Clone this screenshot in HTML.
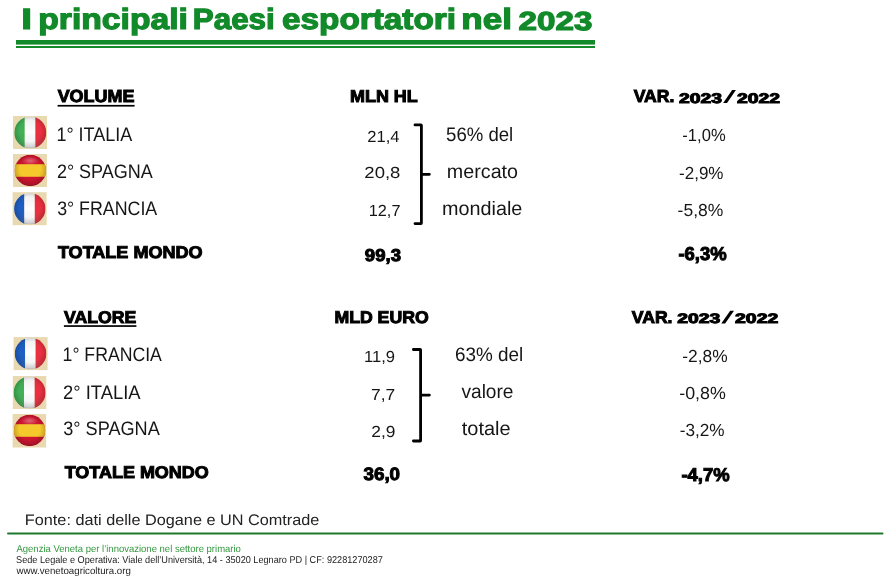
<!DOCTYPE html>
<html><head><meta charset="utf-8"><style>
html,body{margin:0;padding:0;background:#fff;}
body{width:888px;height:587px;overflow:hidden;}
svg{display:block;will-change:transform;}
text{font-family:"Liberation Sans",sans-serif;text-rendering:geometricPrecision;}
</style></head><body>
<svg width="888" height="587" viewBox="0 0 888 587">
<defs>
<radialGradient id="shade" cx="50%" cy="45%" r="55%">
<stop offset="0.6" stop-color="#000" stop-opacity="0"/>
<stop offset="0.93" stop-color="#000" stop-opacity="0.18"/>
<stop offset="1" stop-color="#000" stop-opacity="0.35"/>
</radialGradient>
<linearGradient id="vg" x1="0" y1="0" x2="0" y2="1">
<stop offset="0" stop-color="#000" stop-opacity="0.06"/>
<stop offset="0.5" stop-color="#000" stop-opacity="0"/>
<stop offset="1" stop-color="#fff" stop-opacity="0.12"/>
</linearGradient>
<radialGradient id="hl" cx="50%" cy="50%" r="50%">
<stop offset="0" stop-color="#fff" stop-opacity="0.35"/>
<stop offset="1" stop-color="#fff" stop-opacity="0"/>
</radialGradient>
</defs>
<rect width="888" height="587" fill="#fff"/>
<rect x="16" y="40" width="579" height="4.6" fill="#128a2a"/>
<rect x="16" y="46" width="579" height="2" fill="#128a2a"/>
<rect x="57.6" y="104.9" width="77" height="1.7" fill="#000"/>
<rect x="63.9" y="325.2" width="72.5" height="1.7" fill="#000"/>
<polygon points="723.2,102.9 727.0,102.9 735.9,90.1 732.1,90.1" fill="#000"/>
<polygon points="721.3,323.6 725.1,323.6 734.0,310.8 730.2,310.8" fill="#000"/>
<rect x="7" y="532.4" width="876.5" height="2.0" rx="1" fill="#20782f"/>
<rect x="13" y="116" width="34" height="33" fill="#e9d9b1"/>
<clipPath id="c1"><circle cx="30.3" cy="132.5" r="16"/></clipPath><g clip-path="url(#c1)"><rect x="14.3" y="116.5" width="10.60" height="32" fill="#42b157"/><rect x="24.70" y="116.5" width="10.88" height="32" fill="#fefefe"/><rect x="35.38" y="116.5" width="10.92" height="32" fill="#eb3040"/><circle cx="30.3" cy="132.5" r="16" fill="url(#vg)"/><circle cx="30.3" cy="132.5" r="16" fill="url(#shade)"/></g>
<rect x="13" y="154" width="34" height="33" fill="#e9d9b1"/>
<clipPath id="c2"><circle cx="30.3" cy="170.5" r="15.7"/></clipPath><g clip-path="url(#c2)"><rect x="14.600000000000001" y="154.8" width="31.4" height="31.4" fill="#cc1530"/><rect x="14.600000000000001" y="164.22" width="31.4" height="12.56" fill="#f5c82c"/><ellipse cx="30.3" cy="160.77" rx="8.63" ry="4.40" fill="url(#hl)"/><circle cx="30.3" cy="170.5" r="15.7" fill="url(#shade)"/></g>
<rect x="12.6" y="192.2" width="34" height="33" fill="#e9d9b1"/>
<clipPath id="c3"><circle cx="29.8" cy="208.8" r="15.7"/></clipPath><g clip-path="url(#c3)"><rect x="14.100000000000001" y="193.10000000000002" width="10.40" height="31.4" fill="#1f5fc4"/><rect x="24.30" y="193.10000000000002" width="10.68" height="31.4" fill="#fefefe"/><rect x="34.78" y="193.10000000000002" width="10.72" height="31.4" fill="#eb3040"/><circle cx="29.8" cy="208.8" r="15.7" fill="url(#vg)"/><circle cx="29.8" cy="208.8" r="15.7" fill="url(#shade)"/></g>
<rect x="13.6" y="337.1" width="34" height="33" fill="#e9d9b1"/>
<clipPath id="c4"><circle cx="30.6" cy="353.6" r="15.8"/></clipPath><g clip-path="url(#c4)"><rect x="14.8" y="337.8" width="10.47" height="31.6" fill="#1f5fc4"/><rect x="25.07" y="337.8" width="10.74" height="31.6" fill="#fefefe"/><rect x="35.61" y="337.8" width="10.79" height="31.6" fill="#eb3040"/><circle cx="30.6" cy="353.6" r="15.8" fill="url(#vg)"/><circle cx="30.6" cy="353.6" r="15.8" fill="url(#shade)"/></g>
<rect x="12.8" y="376" width="33.5" height="33" fill="#e9d9b1"/>
<clipPath id="c5"><circle cx="29.6" cy="392.6" r="16"/></clipPath><g clip-path="url(#c5)"><rect x="13.600000000000001" y="376.6" width="10.60" height="32" fill="#42b157"/><rect x="24.00" y="376.6" width="10.88" height="32" fill="#fefefe"/><rect x="34.68" y="376.6" width="10.92" height="32" fill="#eb3040"/><circle cx="29.6" cy="392.6" r="16" fill="url(#vg)"/><circle cx="29.6" cy="392.6" r="16" fill="url(#shade)"/></g>
<rect x="12.6" y="414" width="33.5" height="33.5" fill="#e9d9b1"/>
<clipPath id="c6"><circle cx="29.6" cy="430.5" r="15.7"/></clipPath><g clip-path="url(#c6)"><rect x="13.900000000000002" y="414.8" width="31.4" height="31.4" fill="#cc1530"/><rect x="13.900000000000002" y="424.22" width="31.4" height="12.56" fill="#f5c82c"/><ellipse cx="29.6" cy="420.77" rx="8.63" ry="4.40" fill="url(#hl)"/><circle cx="29.6" cy="430.5" r="15.7" fill="url(#shade)"/></g>

<path d="M415 124.9 H421.0 Q421.4 124.9 421.4 125.5 V223.0 Q421.4 223.6 421.0 223.6 H415 M421.4 174.3 H429.4" fill="none" stroke="#000" stroke-width="2.8" stroke-linecap="round" stroke-linejoin="round"/>
<path d="M413.4 349.5 H420.20000000000005 Q420.6 349.5 420.6 350.1 V440.4 Q420.6 441.0 420.20000000000005 441.0 H413.4 M420.6 395.1 H429.4" fill="none" stroke="#000" stroke-width="2.8" stroke-linecap="round" stroke-linejoin="round"/>
<text x="21.39" y="29.00" font-size="29.2" font-weight="bold" fill="#128a2a" stroke="#128a2a" stroke-width="1.2" textLength="10.72" lengthAdjust="spacingAndGlyphs">I</text>
<text x="38.21" y="29.00" font-size="29.2" font-weight="bold" fill="#128a2a" stroke="#128a2a" stroke-width="1.2" textLength="149.77" lengthAdjust="spacingAndGlyphs">principali</text>
<text x="192.78" y="29.00" font-size="29.2" font-weight="bold" fill="#128a2a" stroke="#128a2a" stroke-width="1.2" textLength="82.04" lengthAdjust="spacingAndGlyphs">Paesi</text>
<text x="281.97" y="29.00" font-size="29.2" font-weight="bold" fill="#128a2a" stroke="#128a2a" stroke-width="1.2" textLength="174.09" lengthAdjust="spacingAndGlyphs">esportatori</text>
<text x="461.32" y="29.00" font-size="29.2" font-weight="bold" fill="#128a2a" stroke="#128a2a" stroke-width="1.2" textLength="50.63" lengthAdjust="spacingAndGlyphs">nel</text>
<text x="518.64" y="30.00" font-size="26.07449856733525" font-weight="bold" fill="#128a2a" stroke="#128a2a" stroke-width="1.2" textLength="73.79" lengthAdjust="spacingAndGlyphs">2023</text>
<text x="57.67" y="102.40" font-size="17.44186046511628" font-weight="bold" fill="#000" stroke="#000" stroke-width="1.0" textLength="76.76" lengthAdjust="spacingAndGlyphs">VOLUME</text>
<text x="349.99" y="102.30" font-size="17.151162790697672" font-weight="bold" fill="#000" stroke="#000" stroke-width="1.0" textLength="67.78" lengthAdjust="spacingAndGlyphs">MLN HL</text>
<text x="633.67" y="102.40" font-size="17.44186046511628" font-weight="bold" fill="#000" stroke="#000" stroke-width="1.0" textLength="40.72" lengthAdjust="spacingAndGlyphs">VAR.</text>
<text x="679.12" y="102.70" font-size="13.896848137535821" font-weight="bold" fill="#000" stroke="#000" stroke-width="1.0" textLength="43.00" lengthAdjust="spacingAndGlyphs">2023</text>
<text x="737.02" y="102.70" font-size="13.896848137535821" font-weight="bold" fill="#000" stroke="#000" stroke-width="1.0" textLength="43.05" lengthAdjust="spacingAndGlyphs">2022</text>
<text x="56.45" y="140.90" font-size="19.5" fill="#161616" textLength="75.77" lengthAdjust="spacingAndGlyphs">1° ITALIA</text>
<text x="56.90" y="178.00" font-size="19.5" fill="#161616" textLength="95.85" lengthAdjust="spacingAndGlyphs">2° SPAGNA</text>
<text x="57.13" y="215.30" font-size="19.5" fill="#161616" textLength="100.12" lengthAdjust="spacingAndGlyphs">3° FRANCIA</text>
<text x="367.27" y="142.00" font-size="16.0" fill="#161616" textLength="32.20" lengthAdjust="spacingAndGlyphs">21,4</text>
<text x="364.37" y="178.30" font-size="16.0" fill="#161616" textLength="36.04" lengthAdjust="spacingAndGlyphs">20,8</text>
<text x="368.78" y="216.00" font-size="16.0" fill="#161616" textLength="31.66" lengthAdjust="spacingAndGlyphs">12,7</text>
<text x="446.06" y="140.50" font-size="19.5" fill="#161616" textLength="67.18" lengthAdjust="spacingAndGlyphs">56% del</text>
<text x="446.87" y="177.90" font-size="19.5" fill="#161616" textLength="71.16" lengthAdjust="spacingAndGlyphs">mercato</text>
<text x="442.06" y="215.40" font-size="19.5" fill="#161616" textLength="80.29" lengthAdjust="spacingAndGlyphs">mondiale</text>
<text x="682.35" y="141.00" font-size="17.5" fill="#161616" textLength="43.32" lengthAdjust="spacingAndGlyphs">-1,0%</text>
<text x="679.03" y="178.60" font-size="17.5" fill="#161616" textLength="44.46" lengthAdjust="spacingAndGlyphs">-2,9%</text>
<text x="677.61" y="215.80" font-size="17.5" fill="#161616" textLength="45.70" lengthAdjust="spacingAndGlyphs">-5,8%</text>
<text x="57.92" y="258.40" font-size="17.005813953488357" font-weight="bold" fill="#000" stroke="#000" stroke-width="1.0" textLength="144.66" lengthAdjust="spacingAndGlyphs">TOTALE MONDO</text>
<text x="364.85" y="260.90" font-size="17.19197707736386" font-weight="bold" fill="#000" stroke="#000" stroke-width="1.0" textLength="36.12" lengthAdjust="spacingAndGlyphs">99,3</text>
<text x="678.46" y="259.80" font-size="18.62464183381089" font-weight="bold" fill="#000" stroke="#000" stroke-width="1.0" textLength="48.24" lengthAdjust="spacingAndGlyphs">-6,3%</text>
<text x="64.07" y="322.80" font-size="17.005813953488357" font-weight="bold" fill="#000" stroke="#000" stroke-width="1.0" textLength="72.24" lengthAdjust="spacingAndGlyphs">VALORE</text>
<text x="334.41" y="322.90" font-size="17.005813953488357" font-weight="bold" fill="#000" stroke="#000" stroke-width="1.0" textLength="94.26" lengthAdjust="spacingAndGlyphs">MLD EURO</text>
<text x="631.77" y="323.10" font-size="17.151162790697693" font-weight="bold" fill="#000" stroke="#000" stroke-width="1.0" textLength="40.72" lengthAdjust="spacingAndGlyphs">VAR.</text>
<text x="677.22" y="323.40" font-size="13.753581661891069" font-weight="bold" fill="#000" stroke="#000" stroke-width="1.0" textLength="43.00" lengthAdjust="spacingAndGlyphs">2023</text>
<text x="735.12" y="323.40" font-size="13.753581661891069" font-weight="bold" fill="#000" stroke="#000" stroke-width="1.0" textLength="43.05" lengthAdjust="spacingAndGlyphs">2022</text>
<text x="62.58" y="361.10" font-size="19.5" fill="#161616" textLength="99.28" lengthAdjust="spacingAndGlyphs">1° FRANCIA</text>
<text x="62.98" y="398.70" font-size="19.5" fill="#161616" textLength="77.55" lengthAdjust="spacingAndGlyphs">2° ITALIA</text>
<text x="63.22" y="435.30" font-size="19.5" fill="#161616" textLength="96.53" lengthAdjust="spacingAndGlyphs">3° SPAGNA</text>
<text x="364.06" y="361.50" font-size="16.0" fill="#161616" textLength="31.02" lengthAdjust="spacingAndGlyphs">11,9</text>
<text x="371.03" y="399.50" font-size="16.0" fill="#161616" textLength="24.14" lengthAdjust="spacingAndGlyphs">7,7</text>
<text x="371.33" y="436.50" font-size="16.0" fill="#161616" textLength="24.15" lengthAdjust="spacingAndGlyphs">2,9</text>
<text x="454.96" y="361.00" font-size="19.5" fill="#161616" textLength="68.30" lengthAdjust="spacingAndGlyphs">63% del</text>
<text x="461.45" y="398.00" font-size="19.5" fill="#161616" textLength="52.08" lengthAdjust="spacingAndGlyphs">valore</text>
<text x="461.80" y="435.10" font-size="19.5" fill="#161616" textLength="48.77" lengthAdjust="spacingAndGlyphs">totale</text>
<text x="682.22" y="361.70" font-size="17.5" fill="#161616" textLength="45.39" lengthAdjust="spacingAndGlyphs">-2,8%</text>
<text x="679.20" y="398.80" font-size="17.5" fill="#161616" textLength="46.63" lengthAdjust="spacingAndGlyphs">-0,8%</text>
<text x="679.73" y="436.00" font-size="17.5" fill="#161616" textLength="44.87" lengthAdjust="spacingAndGlyphs">-3,2%</text>
<text x="64.72" y="478.30" font-size="17.005813953488357" font-weight="bold" fill="#000" stroke="#000" stroke-width="1.0" textLength="144.06" lengthAdjust="spacingAndGlyphs">TOTALE MONDO</text>
<text x="363.48" y="480.10" font-size="17.765042979942745" font-weight="bold" fill="#000" stroke="#000" stroke-width="1.0" textLength="36.60" lengthAdjust="spacingAndGlyphs">36,0</text>
<text x="681.46" y="480.50" font-size="18.481375358166158" font-weight="bold" fill="#000" stroke="#000" stroke-width="1.0" textLength="48.14" lengthAdjust="spacingAndGlyphs">-4,7%</text>
<text x="24.86" y="525.00" font-size="15.3" fill="#222" textLength="294.46" lengthAdjust="spacingAndGlyphs">Fonte: dati delle Dogane e UN Comtrade</text>
<text x="16.48" y="551.90" font-size="9.9" fill="#33973f" textLength="224.42" lengthAdjust="spacingAndGlyphs">Agenzia Veneta per l’innovazione nel settore primario</text>
<text x="16.09" y="562.70" font-size="9.9" fill="#222" textLength="366.77" lengthAdjust="spacingAndGlyphs">Sede Legale e Operativa: Viale dell’Università, 14 - 35020 Legnaro PD | CF: 92281270287</text>
<text x="16.52" y="573.50" font-size="9.9" fill="#222" textLength="114.40" lengthAdjust="spacingAndGlyphs">www.venetoagricoltura.org</text>
</svg>
</body></html>
